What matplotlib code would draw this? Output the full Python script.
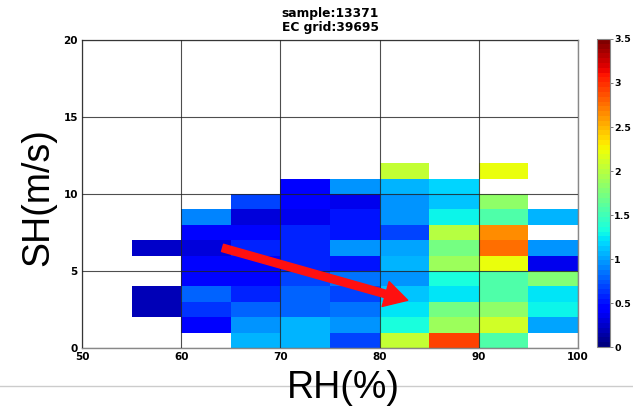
import numpy as np
import matplotlib
matplotlib.use("Agg")
import matplotlib.pyplot as plt
from matplotlib.patches import FancyArrowPatch
from matplotlib.lines import Line2D

nan = np.nan
# RH bin lower edges and SH bin edges
rh_edges = [50, 55, 60, 65, 70, 75, 80, 85, 90, 95, 100]
sh_edges = list(range(0, 21))

# values per RH column (rows SH 0-1, 1-2, ... 11-12)
col50 = [nan] * 12
col55 = [nan, nan, 0.18, 0.18, nan, nan, 0.23, nan, nan, nan, nan, nan]
col60 = [nan, 0.40, 0.64, 0.77, 0.45, 0.45, 0.28, 0.45, 0.90, nan, nan, nan]
col65 = [1.04, 0.95, 0.77, 0.55, 0.45, 0.45, 0.60, 0.45, 0.28, 0.66, nan, nan]
col70 = [1.04, 1.04, 0.77, 0.82, 0.66, 0.60, 0.55, 0.55, 0.38, 0.42, 0.42, nan]
col75 = [0.68, 0.95, 0.87, 0.71, 0.85, 0.52, 0.93, 0.50, 0.50, 0.34, 0.93, nan]
col80 = [2.07, 1.32, 1.23, 1.12, 0.98, 1.09, 1.01, 0.71, 0.95, 0.95, 1.07, 2.03]
col85 = [2.95, 1.88, 1.70, 1.23, 1.36, 1.90, 1.70, 1.97, 1.29, 1.12, 1.18, nan]
col90 = [1.57, 2.10, 1.83, 1.57, 1.57, 2.23, 2.77, 2.66, 1.57, 1.83, nan, 2.23]
col95 = [nan, 1.01, 1.26, 1.23, 1.77, 0.34, 0.93, nan, 1.09, nan, nan, nan]
columns = [col50, col55, col60, col65, col70, col75, col80, col85, col90, col95]

title_lines = ["sample:13371", "EC grid:39695"]
x_ticks = [50, 60, 70, 80, 90, 100]
y_ticks = [0, 5, 10, 15, 20]
cb_ticks = [0, 0.5, 1, 1.5, 2, 2.5, 3, 3.5]

n_rows = len(sh_edges) - 1
Z = np.full((n_rows, len(columns)), nan)
for j, col in enumerate(columns):
    Z[:len(col), j] = col
Z = np.ma.masked_invalid(Z)

W, H = 633, 415
fig = plt.figure(figsize=(W / 100, H / 100), dpi=100)
fig.patch.set_facecolor("white")

ax = fig.add_axes([82 / W, 1 - 348 / H, (578 - 82) / W, (348 - 40) / H])
cmap = plt.get_cmap("jet", 64)
mesh = ax.pcolormesh(rh_edges, sh_edges, Z, cmap=cmap, vmin=0, vmax=3.5)
ax.set_xlim(50, 100)
ax.set_ylim(0, 20)
ax.set_xticks(x_ticks)
ax.set_yticks(y_ticks)
ax.set_xticklabels([str(v) for v in x_ticks], fontsize=7.5, fontweight="bold")
ax.set_yticklabels([str(v) for v in y_ticks], fontsize=7.5, fontweight="bold")
ax.tick_params(length=0, pad=3)
ax.tick_params(axis="x", pad=3)
ax.set_axisbelow(False)
ax.grid(True, color="#222222", linewidth=0.8, alpha=0.8)
for s in ax.spines.values():
    s.set_color("#888888")
    s.set_linewidth(1.0)

# red arrow
arr = FancyArrowPatch((63.9, 6.55), (83.1, 3.05),
                      arrowstyle="simple,head_length=0.55,head_width=0.62,tail_width=0.18",
                      mutation_scale=30, color="#ff1010", zorder=5)
ax.add_patch(arr)

# titles
fig.text(330 / W, 1 - 14 / H, title_lines[0], ha="center", va="center",
         fontsize=8.8, fontweight="bold")
fig.text(330 / W, 1 - 28 / H, title_lines[1], ha="center", va="center",
         fontsize=8.8, fontweight="bold")

# axis labels
fig.text(343 / W, 1 - 388 / H, "RH(%)", ha="center", va="center",
         fontsize=27, family="Liberation Sans")
fig.text(38 / W, 1 - 197 / H, "SH(m/s)", ha="center", va="center",
         fontsize=27, family="Liberation Sans", rotation=90)

# colorbar
cax = fig.add_axes([597 / W, 1 - 347 / H, 13 / W, (347 - 39) / H])
cb = fig.colorbar(mesh, cax=cax, ticks=cb_ticks)
cb.ax.set_yticklabels(["0", "0.5", "1", "1.5", "2", "2.5", "3", "3.5"],
                      fontsize=6.8, fontweight="bold")
cb.ax.tick_params(length=2, width=0.6, pad=1, color="#666666")
cb.outline.set_edgecolor("#888888")
cb.outline.set_linewidth(0.8)

# slide separator line
fig.add_artist(Line2D([0, 1], [1 - 386 / H, 1 - 386 / H], color="#cccccc",
                      linewidth=1.0, transform=fig.transFigure))

fig.savefig("out.png", dpi=100, facecolor="white")
